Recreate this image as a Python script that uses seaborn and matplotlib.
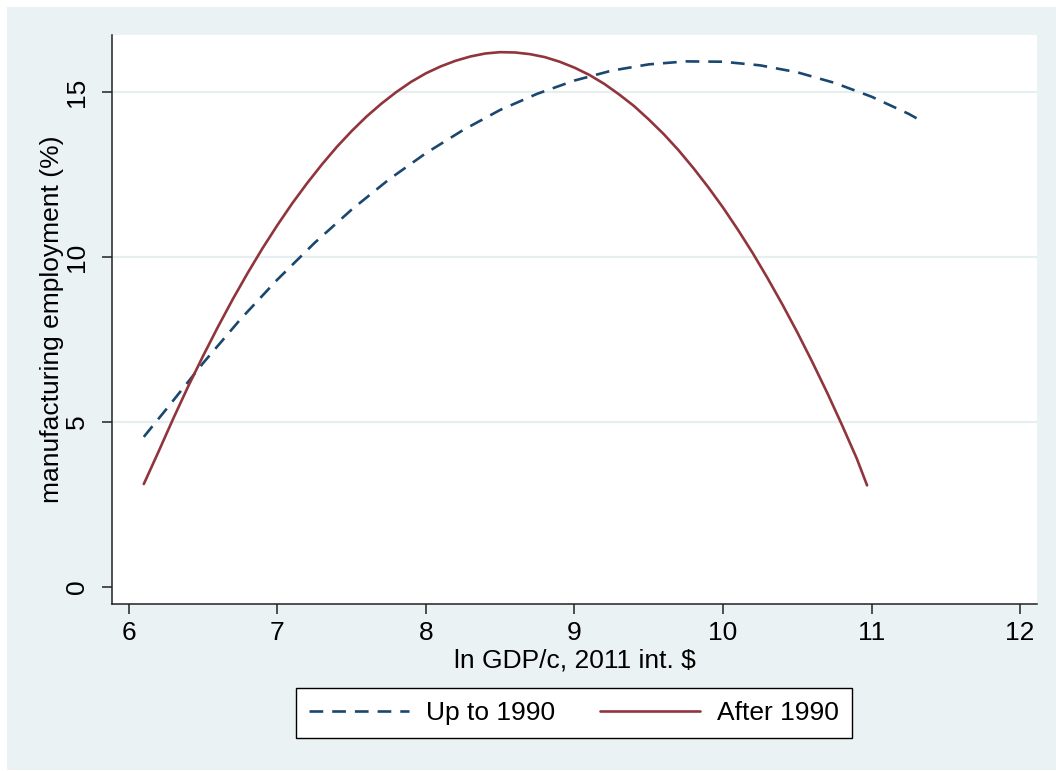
import matplotlib

matplotlib.use("Agg")
import matplotlib.pyplot as plt
import pandas as pd
import seaborn as sns
from matplotlib.patches import Rectangle

# ------------------------------------------------------------
# Data
# ------------------------------------------------------------
x_up_to_1990 = [6.10, 6.25, 6.5, 6.75, 7.0, 7.25, 7.5, 7.75, 8.0, 8.25, 8.5, 8.75,
                9.0, 9.25, 9.5, 9.75, 10.0, 10.25, 10.5, 10.75, 11.0, 11.25, 11.35]
y_up_to_1990 = [4.55, 5.38, 6.79, 8.11, 9.32, 10.43, 11.44, 12.35, 13.15, 13.85, 14.46, 14.95,
                15.35, 15.65, 15.84, 15.93, 15.92, 15.81, 15.60, 15.28, 14.86, 14.34, 14.09]

x_after_1990 = [6.10, 6.2, 6.3, 6.4, 6.5, 6.6, 6.7, 6.8, 6.9, 7.0,
                7.1, 7.2, 7.3, 7.4, 7.5, 7.6, 7.7, 7.8, 7.9, 8.0,
                8.1, 8.2, 8.3, 8.4, 8.5, 8.6, 8.7, 8.8, 8.9, 9.0,
                9.1, 9.2, 9.3, 9.4, 9.5, 9.6, 9.7, 9.8, 9.9, 10.0,
                10.1, 10.2, 10.3, 10.4, 10.5, 10.6, 10.7, 10.8, 10.9, 10.97]
y_after_1990 = [3.12, 4.11, 5.12, 6.09, 7.01, 7.89, 8.73, 9.52, 10.27, 10.97,
                11.63, 12.24, 12.81, 13.34, 13.82, 14.26, 14.65, 15.00, 15.31, 15.57,
                15.78, 15.95, 16.08, 16.17, 16.21, 16.20, 16.15, 16.06, 15.92, 15.74,
                15.52, 15.25, 14.93, 14.58, 14.17, 13.73, 13.24, 12.70, 12.12, 11.50,
                10.83, 10.12, 9.36, 8.56, 7.72, 6.83, 5.90, 4.92, 3.90, 3.08]

x_ticks = [6, 7, 8, 9, 10, 11, 12]
y_ticks = [0, 5, 10, 15]
series_labels = ["Up to 1990", "After 1990"]

NAVY = "#1a476f"
MAROON = "#90353b"
REGION = "#eaf2f3"

sns.set_style("ticks", {"text.color": "black", "axes.labelcolor": "black",
                        "xtick.color": "black", "ytick.color": "black"})
plt.rcParams["font.family"] = ["Liberation Sans", "DejaVu Sans"]
FS = 19

df_up = pd.DataFrame({"x": x_up_to_1990, "y": y_up_to_1990})
df_after = pd.DataFrame({"x": x_after_1990, "y": y_after_1990})

fig = plt.figure(figsize=(10.56, 7.71), dpi=100, facecolor="white")
# Stata-like graph region (light bluish gray), drawn behind the axes
fig.patches.append(Rectangle((7 / 1056, 1 / 771), 1 - 7 / 1056, 1 - 8 / 771,
                             transform=fig.transFigure, facecolor=REGION,
                             edgecolor="none", zorder=-10))

ax = fig.add_axes([112 / 1056, 1 - 604 / 771, (1037 - 112) / 1056, (604 - 35) / 771])
ax.set_facecolor("white")

sns.lineplot(data=df_up, x="x", y="y", ax=ax, color=NAVY, lw=1.9,
             label=series_labels[0], sort=False)
sns.lineplot(data=df_after, x="x", y="y", ax=ax, color=MAROON, lw=1.9,
             label=series_labels[1], sort=False)
ax.lines[0].set_dashes((5.2, 3.4))
ax.lines[0].set_dash_capstyle("butt")

ax.set_xlim(5.886, 12.114)
ax.set_ylim(-0.515, 16.73)
ax.set_xticks(x_ticks)
ax.set_yticks(y_ticks)
ax.set_xticklabels([str(t) for t in x_ticks], fontsize=FS)
ax.set_yticklabels([str(t) for t in y_ticks], fontsize=FS, rotation=90, va="center")

ax.yaxis.grid(True, color="#e6eef0", lw=1.6)
ax.yaxis.get_gridlines()[0].set_visible(False)
ax.set_axisbelow(True)

for side in ["top", "right"]:
    ax.spines[side].set_visible(False)
for side in ["left", "bottom"]:
    ax.spines[side].set_color("#222222")
    ax.spines[side].set_linewidth(1.1)
ax.tick_params(axis="both", direction="out", length=7.5, width=1.1, color="#222222")
ax.tick_params(axis="x", pad=5)
ax.tick_params(axis="y", pad=9)

ax.set_xlabel(r"ln GDP/c, 2011 int. \$", fontsize=FS, labelpad=2)
ax.set_ylabel("manufacturing employment (%)", fontsize=FS, labelpad=1)

handles, labels = ax.get_legend_handles_labels()
ax.get_legend().remove()
leg = fig.legend(handles, labels, loc="center", ncol=2,
                 bbox_to_anchor=(574 / 1056, 1 - 713 / 771),
                 fontsize=FS, frameon=True, fancybox=False, framealpha=1,
                 edgecolor="black", handlelength=3.8, handletextpad=0.65,
                 columnspacing=1.67, borderpad=0.5)
leg.get_frame().set_linewidth(1.0)

fig.savefig("out.png", dpi=100)
plt.close(fig)
